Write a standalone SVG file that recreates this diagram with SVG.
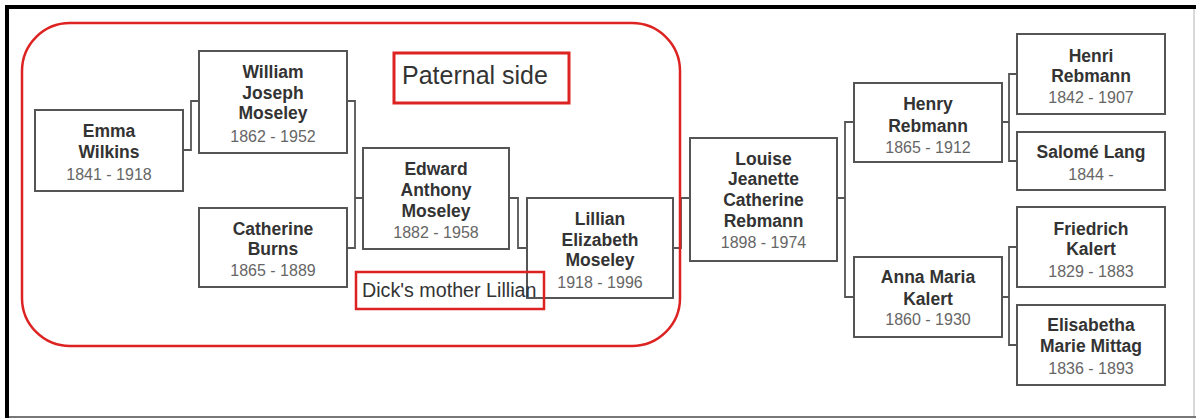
<svg xmlns="http://www.w3.org/2000/svg" width="1198" height="419" viewBox="0 0 1198 419">
<style>
.box{fill:#fff;stroke:#555;stroke-width:2}
.nm{font-family:"Liberation Sans",Arial,sans-serif;font-weight:bold;font-size:17.5px;fill:#333;text-anchor:middle}
.dt{font-family:"Liberation Sans",Arial,sans-serif;font-size:16px;fill:#666;text-anchor:middle}
.con{fill:none;stroke:#555;stroke-width:1.8}
.red{fill:none;stroke:#dd2222}
.note{font-family:"Liberation Sans",Arial,sans-serif;fill:#333}
</style>
<rect x="0" y="0" width="1198" height="419" fill="#fff"/>
<g id="frame">
<line x1="5" y1="7" x2="1196" y2="7" stroke="#000" stroke-width="4"/>
<line x1="7" y1="5" x2="7" y2="418" stroke="#000" stroke-width="4"/>
<line x1="1194" y1="9" x2="1194" y2="417" stroke="#ccc" stroke-width="1.5"/>
<line x1="9" y1="417" x2="1196" y2="417" stroke="#777" stroke-width="2"/>
</g>
<g id="connectors">
<path class="con" d="M183,150 H191 V101 H199"/>
<path class="con" d="M347,101 H355 V248 H347 M355,198 H363"/>
<path class="con" d="M509,198 H518 V248 H527"/>
<path class="con" d="M673,248 H681 V198 H690"/>
<path class="con" d="M837,198 H845 M854,122 H845 V297 H854"/>
<path class="con" d="M1002,122 H1009 M1017,74 H1009 V161 H1017"/>
<path class="con" d="M1002,297 H1009 M1017,247 H1009 V345 H1017"/>
</g>
<g id="emma">
<rect class="box" x="35" y="110" width="148" height="81"/>
<text class="nm" x="109" y="137">Emma</text>
<text class="nm" x="109" y="158">Wilkins</text>
<text class="dt" x="109" y="180">1841 - 1918</text>
</g>
<g id="william">
<rect class="box" x="199" y="51" width="148" height="102"/>
<text class="nm" x="273" y="78">William</text>
<text class="nm" x="273" y="99">Joseph</text>
<text class="nm" x="273" y="119">Moseley</text>
<text class="dt" x="273" y="142">1862 - 1952</text>
</g>
<g id="catherine">
<rect class="box" x="199" y="208" width="148" height="79"/>
<text class="nm" x="273" y="235">Catherine</text>
<text class="nm" x="273" y="255">Burns</text>
<text class="dt" x="273" y="276">1865 - 1889</text>
</g>
<g id="edward">
<rect class="box" x="363" y="148" width="146" height="101"/>
<text class="nm" x="436" y="175">Edward</text>
<text class="nm" x="436" y="196">Anthony</text>
<text class="nm" x="436" y="217">Moseley</text>
<text class="dt" x="436" y="238">1882 - 1958</text>
</g>
<g id="lillian">
<rect class="box" x="527" y="198" width="146" height="100"/>
<text class="nm" x="600" y="225">Lillian</text>
<text class="nm" x="600" y="246">Elizabeth</text>
<text class="nm" x="600" y="266">Moseley</text>
<text class="dt" x="600" y="288">1918 - 1996</text>
</g>
<g id="louise">
<rect class="box" x="690" y="138" width="147" height="123"/>
<text class="nm" x="763.5" y="165">Louise</text>
<text class="nm" x="763.5" y="185">Jeanette</text>
<text class="nm" x="763.5" y="206">Catherine</text>
<text class="nm" x="763.5" y="227">Rebmann</text>
<text class="dt" x="763.5" y="248">1898 - 1974</text>
</g>
<g id="henry">
<rect class="box" x="854" y="83" width="148" height="79"/>
<text class="nm" x="928" y="110">Henry</text>
<text class="nm" x="928" y="132">Rebmann</text>
<text class="dt" x="928" y="153">1865 - 1912</text>
</g>
<g id="anna">
<rect class="box" x="854" y="257" width="148" height="80"/>
<text class="nm" x="928" y="283">Anna Maria</text>
<text class="nm" x="928" y="305">Kalert</text>
<text class="dt" x="928" y="325">1860 - 1930</text>
</g>
<g id="henri">
<rect class="box" x="1017" y="34" width="148" height="80"/>
<text class="nm" x="1091" y="62">Henri</text>
<text class="nm" x="1091" y="82">Rebmann</text>
<text class="dt" x="1091" y="103">1842 - 1907</text>
</g>
<g id="salome">
<rect class="box" x="1017" y="132" width="148" height="58"/>
<text class="nm" x="1091" y="158">Salomé Lang</text>
<text class="dt" x="1091" y="180">1844 -</text>
</g>
<g id="friedrich">
<rect class="box" x="1017" y="207" width="148" height="80"/>
<text class="nm" x="1091" y="235">Friedrich</text>
<text class="nm" x="1091" y="255">Kalert</text>
<text class="dt" x="1091" y="277">1829 - 1883</text>
</g>
<g id="elisabetha">
<rect class="box" x="1017" y="305" width="148" height="80"/>
<text class="nm" x="1091" y="331">Elisabetha</text>
<text class="nm" x="1091" y="352">Marie Mittag</text>
<text class="dt" x="1091" y="374">1836 - 1893</text>
</g>
<g id="paternal-region">
<rect class="red" x="22" y="23" width="658" height="323" rx="48" ry="48" stroke-width="2.5"/>
</g>
<g id="paternal-label">
<rect class="red" x="394" y="53" width="175" height="50" stroke-width="3" fill="#fff"/>
<text class="note" x="402" y="84" font-size="25">Paternal side</text>
</g>
<g id="mother-label">
<rect class="red" x="356" y="272" width="188" height="37" stroke-width="2.5" fill="#fff"/>
<text class="note" x="362" y="297" font-size="19.7">Dick's mother Lillian</text>
</g>
</svg>
